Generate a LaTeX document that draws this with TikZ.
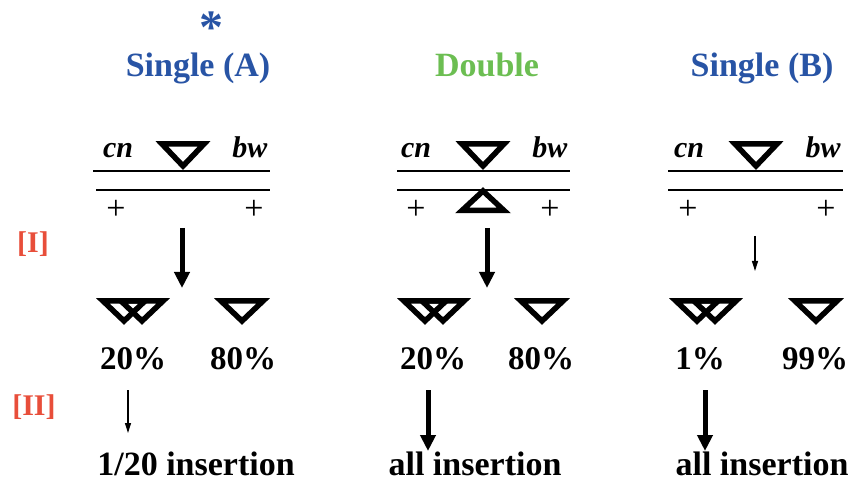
\documentclass[tikz,border=0pt]{standalone}
\usepackage{fontspec}
\setmainfont{Liberation Serif}
\usetikzlibrary{arrows.meta}
\definecolor{headblue}{RGB}{40,84,165}
\definecolor{headgreen}{RGB}{108,190,82}
\definecolor{markred}{RGB}{232,78,58}
\tikzset{
	headtext/.style={font=\fontsize{34}{40}\selectfont\bfseries, anchor=base},
	gene/.style={font=\fontsize{30}{36}\selectfont\bfseries\itshape, anchor=base},
	pct/.style={font=\fontsize{33}{40}\selectfont\bfseries, anchor=base},
	plussign/.style={font=\fontsize{34}{34}\selectfont},
	tri/.style={line width=5.5pt, line join=miter},
	chrom/.style={line width=2.4pt},
	bigarrow/.style={line width=5pt, -{Triangle[length=16pt,width=15pt]}},
	thinarrow/.style={line width=1.2pt, -{Triangle[length=10pt,width=6pt]}},
}
\begin{document}
\begin{tikzpicture}[x=1pt, y=-1pt]
	\useasboundingbox (0,0) rectangle (855,481);
	% headings
	\node[text=headblue, inner sep=0pt, font=\fontsize{48}{48}\selectfont\bfseries] (star) at (211,28) {*};
	\node[headtext, text=headblue] (headA) at (198,77) {Single (A)};
	\node[headtext, text=headgreen] (headD) at (487,77) {Double};
	\node[headtext, text=headblue] (headB) at (762,77) {Single (B)};
	\node[text=markred, font=\fontsize{30}{36}\selectfont\bfseries] (stepI) at (33,244) {[I]};
	\node[text=markred, font=\fontsize{30}{36}\selectfont\bfseries] (stepII) at (34,407) {[II]};

	% Single (A)
	\node[gene] (cnA) at (118,158) {cn};
	\node[gene] (bwA) at (250,158) {bw};
	\draw[tri] (162,144) -- (204,144) -- (183,166) -- cycle;
	\draw[chrom] (93,171) -- (270,171);
	\draw[chrom] (96,190) -- (270,190);
	\node[plussign] (plusAl) at (116,210) {+};
	\node[plussign] (plusAr) at (254,210) {+};
	\coordinate (iA1) at (182,228);
	\coordinate (iA2) at (182,288);
	\draw[bigarrow] (iA1) -- (iA2);
	\draw[tri] (103,301) -- (145,301) -- (124,321) -- cycle;
	\draw[tri] (121,301) -- (163,301) -- (142,321) -- cycle;
	\draw[tri] (221,301) -- (263,301) -- (242,321) -- cycle;
	\node[pct] (pctAl) at (133,370) {20\%};
	\node[pct] (pctAr) at (243,370) {80\%};
	\coordinate (iiA1) at (128,390);
	\coordinate (iiA2) at (128,433);
	\draw[thinarrow] (iiA1) -- (iiA2);
	\node[headtext] (insA) at (196,475) {1/20 insertion};

	% Double
	\node[gene] (cnD) at (416,158) {cn};
	\node[gene] (bwD) at (550,158) {bw};
	\draw[tri] (462,144) -- (504,144) -- (483,166) -- cycle;
	\draw[chrom] (397,171) -- (570,171);
	\draw[chrom] (397,190) -- (570,190);
	\draw[tri] (462,210.5) -- (504,210.5) -- (483,191) -- cycle;
	\node[plussign] (plusDl) at (416,210) {+};
	\node[plussign] (plusDr) at (550,210) {+};
	\coordinate (iD1) at (487,228);
	\coordinate (iD2) at (487,288);
	\draw[bigarrow] (iD1) -- (iD2);
	\draw[tri] (404,301) -- (446,301) -- (425,321) -- cycle;
	\draw[tri] (422,301) -- (464,301) -- (443,321) -- cycle;
	\draw[tri] (521,301) -- (563,301) -- (542,321) -- cycle;
	\node[pct] (pctDl) at (433,370) {20\%};
	\node[pct] (pctDr) at (541,370) {80\%};
	\coordinate (iiD1) at (428,390);
	\coordinate (iiD2) at (428,451);
	\draw[bigarrow] (iiD1) -- (iiD2);
	\node[headtext] (insD) at (475,475) {all insertion};

	% Single (B)
	\node[gene] (cnB) at (689,158) {cn};
	\node[gene] (bwB) at (823,158) {bw};
	\draw[tri] (735,144) -- (777,144) -- (756,166) -- cycle;
	\draw[chrom] (668,171) -- (843,171);
	\draw[chrom] (668,190) -- (843,190);
	\node[plussign] (plusBl) at (688,210) {+};
	\node[plussign] (plusBr) at (826,210) {+};
	\coordinate (iB1) at (755,236);
	\coordinate (iB2) at (755,271);
	\draw[thinarrow] (iB1) -- (iB2);
	\draw[tri] (676,301) -- (718,301) -- (697,321) -- cycle;
	\draw[tri] (694,301) -- (736,301) -- (715,321) -- cycle;
	\draw[tri] (795,301) -- (837,301) -- (816,321) -- cycle;
	\node[pct] (pctBl) at (700,370) {1\%};
	\node[pct] (pctBr) at (815,370) {99\%};
	\coordinate (iiB1) at (705,390);
	\coordinate (iiB2) at (705,451);
	\draw[bigarrow] (iiB1) -- (iiB2);
	\node[headtext] (insB) at (762,475) {all insertion};
\end{tikzpicture}
\end{document}
